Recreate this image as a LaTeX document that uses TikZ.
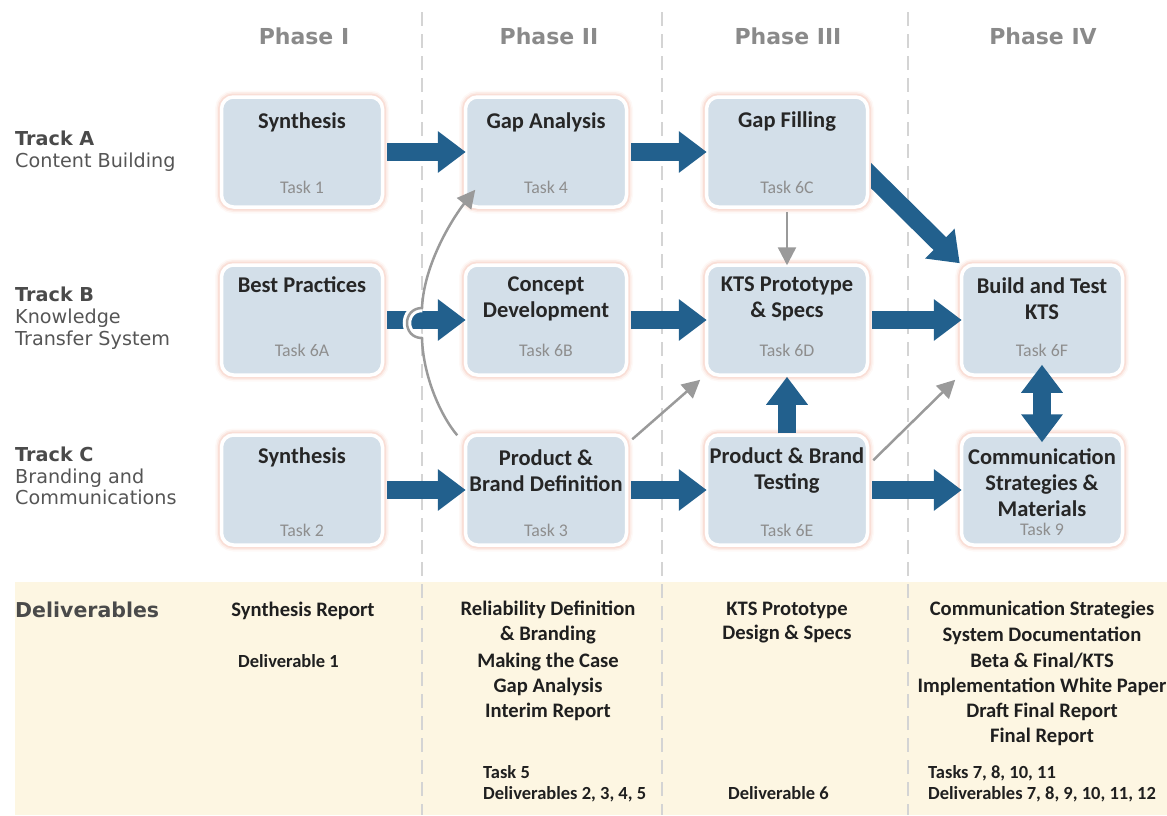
\documentclass[tikz,border=0pt]{standalone}
\usepackage{fontspec}
\setmainfont{Carlito}
\newfontfamily\labelfont{DejaVu Sans}
\usetikzlibrary{arrows.meta}

\definecolor{boxfill}{HTML}{D3DFE9}
\definecolor{flowblue}{HTML}{22608D}
\definecolor{glowpink}{HTML}{F4C2B2}
\definecolor{cream}{HTML}{FDF6E2}
\definecolor{dashgray}{HTML}{D4D4D4}
\definecolor{phasegray}{HTML}{8A8A8A}
\definecolor{taskgray}{HTML}{8E8E8E}
\definecolor{linkgray}{HTML}{9A9A9A}
\definecolor{headgray}{HTML}{4A4A4A}
\definecolor{tracktext}{HTML}{555555}

\begin{document}
\begin{tikzpicture}[x=1pt, y=-1pt,
  stage/.style={rectangle, rounded corners=12pt, minimum width=161pt,
    minimum height=110pt, inner sep=0pt, fill=boxfill, draw=white, line width=3.5pt,
    preaction={draw=glowpink, line width=13pt, opacity=0.10},
    preaction={draw=glowpink, line width=10pt, opacity=0.20},
    preaction={draw=glowpink, line width=7pt, opacity=0.35}},
  title/.style={font=\fontsize{22.5}{26}\selectfont\bfseries, text=black!85,
    align=center, inner sep=0pt},
  tasklbl/.style={font=\fontsize{17.8}{20}\selectfont, text=taskgray, inner sep=0pt},
  phase/.style={font=\labelfont\bfseries\fontsize{22}{26}\selectfont,
    text=phasegray, anchor=base, inner sep=0pt},
  trackhead/.style={font=\labelfont\bfseries\fontsize{19.2}{22}\selectfont,
    text=headgray, anchor=base west, inner sep=0pt},
  tracksub/.style={font=\labelfont\fontsize{19.2}{22}\selectfont,
    text=tracktext, anchor=base west, inner sep=0pt},
  delivhead/.style={font=\labelfont\bfseries\fontsize{20.5}{24}\selectfont,
    text=headgray, anchor=base west, inner sep=0pt},
  deliv/.style={font=\fontsize{20.6}{24}\selectfont\bfseries, text=black!88,
    anchor=base, inner sep=0pt},
  delivl/.style={font=\fontsize{18.5}{22}\selectfont\bfseries, text=black!88,
    anchor=base west, inner sep=0pt},
  flow/.style={draw=flowblue, line width=18pt,
    -{Triangle[length=28pt,width=40pt]}},
  flowboth/.style={draw=flowblue, line width=18pt,
    {Triangle[length=28pt,width=40pt]}-{Triangle[length=28pt,width=40pt]}},
  link/.style={draw=linkgray, line width=2.5pt,
    -{Triangle[length=18pt,width=18pt]}},
  phaseline/.style={draw=dashgray, line width=2.5pt, dash pattern=on 14pt off 8pt}
]
\useasboundingbox (0,0) rectangle (1167,815);

% deliverables band
\fill[cream] (15,582) rectangle (1167,815);

% phase separators
\foreach \x in {422,662,908}
  \draw[phaseline] (\x,12) -- (\x,815);

% phase headings
\node[phase] (ph1) at (304,44) {Phase I};
\node[phase] (ph2) at (549,44) {Phase II};
\node[phase] (ph3) at (788,44) {Phase III};
\node[phase] (ph4) at (1043,44) {Phase IV};

% track headings
\node[trackhead] (trA) at (15,145) {Track A};
\node[tracksub]  (trA1) at (15,167) {Content Building};
\node[trackhead] (trB) at (15,301) {Track B};
\node[tracksub]  (trB1) at (15,323) {Knowledge};
\node[tracksub]  (trB2) at (15,345) {Transfer System};
\node[trackhead] (trC) at (15,461) {Track C};
\node[tracksub]  (trC1) at (15,483) {Branding and};
\node[tracksub]  (trC2) at (15,504) {Communications};

% task boxes
\node[stage] (s1)      at (302,152) {};
\node[stage] (gapA)    at (546,152) {};
\node[stage] (gapF)    at (787,152) {};
\node[stage] (best)    at (302,320) {};
\node[stage] (concept) at (546,320) {};
\node[stage] (kts)     at (787,320) {};
\node[stage] (build)   at (1042,320) {};
\node[stage] (s2)      at (302,490) {};
\node[stage] (pbd)     at (546,490) {};
\node[stage] (pbt)     at (787,490) {};
\node[stage] (comm)    at (1042,490) {};

% box texts
\node[title] (s1-t) at (302,122) {Synthesis};
\node[tasklbl] (s1-k) at (302,187) {Task 1};
\node[title] (gapA-t) at (546,122) {Gap Analysis};
\node[tasklbl] (gapA-k) at (546,187) {Task 4};
\node[title] (gapF-t) at (787,122) {Gap Filling};
\node[tasklbl] (gapF-k) at (787,187) {Task 6C};
\node[title] (best-t) at (302,285) {Best Practices};
\node[tasklbl] (best-k) at (302,350) {Task 6A};
\node[title] (concept-t) at (546,299) {Concept\\Development};
\node[tasklbl] (concept-k) at (546,350) {Task 6B};
\node[title] (kts-t) at (787,299) {KTS Prototype\\\& Specs};
\node[tasklbl] (kts-k) at (787,350) {Task 6D};
\node[title] (build-t) at (1042,299) {Build and Test\\KTS};
\node[tasklbl] (build-k) at (1042,350) {Task 6F};
\node[title] (s2-t) at (302,457) {Synthesis};
\node[tasklbl] (s2-k) at (302,530) {Task 2};
\node[title] (pbd-t) at (546,471) {Product \&\\Brand Definition};
\node[tasklbl] (pbd-k) at (546,530) {Task 3};
\node[title] (pbt-t) at (787,471) {Product \& Brand\\Testing};
\node[tasklbl] (pbt-k) at (787,530) {Task 6E};
\node[title] (comm-t) at (1042,483) {Communication\\Strategies \&\\Materials};
\node[tasklbl] (comm-k) at (1042,529) {Task 9};

% main flow arrows
\draw[flow] ([xshift=3pt]s1.east) -- ([xshift=2pt]gapA.west);
\draw[flow] ([xshift=3pt]gapA.east) -- ([xshift=2pt]gapF.west);
\draw[flow] ([xshift=3pt]best.east) -- ([xshift=2pt]concept.west);
\draw[flow] ([xshift=3pt]concept.east) -- ([xshift=2pt]kts.west);
\draw[flow] ([xshift=3pt]kts.east) -- ([xshift=2pt]build.west);
\draw[flow] ([xshift=3pt]s2.east) -- ([xshift=2pt]pbd.west);
\draw[flow] ([xshift=3pt]pbd.east) -- ([xshift=2pt]pbt.west);
\draw[flow] ([xshift=3pt]pbt.east) -- ([xshift=2pt]comm.west);
\draw[flow] (pbt.north) -- (kts.south);
\draw[flowboth] ([shift={(0,-12)}]build.south) -- ([shift={(0,9)}]comm.north);
\begin{scope}
  \clip ([xshift=1.75pt]gapF.north east) rectangle (1167,600);
  \draw[flow] ([shift={(-8,14)}]gapF.east) -- (build.north west);
\end{scope}

% secondary links
\draw[link] ([shift={(0,3)}]gapF.south) -- ([shift={(0,2)}]kts.north);
\draw[link] ([shift={(4,6)}]pbd.north east) -- ([shift={(-4.5,3)}]kts.south west);
\draw[link] ([shift={(4,27)}]pbt.north east) -- ([shift={(-4.5,3)}]build.south west);

% curved link hopping over the Track B arrow
\draw[white, line width=8.5pt] (422,338) .. controls (402,338) and (402,308) .. (422,308);
\draw[link] ([shift={(-6.5,2)}]pbd.north west)
  .. controls (440,415) and (423,375) .. (422,338)
  .. controls (402,338) and (402,308) .. (422,308)
  .. controls (424,262) and (455,215) .. ([shift={(11.5,-19)}]gapA.south west);

% deliverables
\node[delivhead] (dh) at (15,617) {Deliverables};
\node[deliv]  (d1a) at (303,616) {Synthesis Report};
\node[delivl] (d1b) at (238,667) {Deliverable 1};

\node[deliv]  (d2a) at (548,615) {Reliability Definition};
\node[deliv]  (d2b) at (548,640) {\& Branding};
\node[deliv]  (d2c) at (548,667) {Making the Case};
\node[deliv]  (d2d) at (548,692) {Gap Analysis};
\node[deliv]  (d2e) at (548,717) {Interim Report};
\node[delivl] (d2f) at (483,778) {Task 5};
\node[delivl] (d2g) at (483,799) {Deliverables 2, 3, 4, 5};

\node[deliv]  (d3a) at (787,615) {KTS Prototype};
\node[deliv]  (d3b) at (787,639) {Design \& Specs};
\node[delivl] (d3c) at (728,799) {Deliverable 6};

\node[deliv]  (d4a) at (1042,615) {Communication Strategies};
\node[deliv]  (d4b) at (1042,641) {System Documentation};
\node[deliv]  (d4c) at (1042,667) {Beta \& Final/KTS};
\node[deliv]  (d4d) at (1042,692) {Implementation White Paper};
\node[deliv]  (d4e) at (1042,717) {Draft Final Report};
\node[deliv]  (d4f) at (1042,742) {Final Report};
\node[delivl] (d4g) at (928,778) {Tasks 7, 8, 10, 11};
\node[delivl] (d4h) at (928,799) {Deliverables 7, 8, 9, 10, 11, 12};
\end{tikzpicture}
\end{document}
